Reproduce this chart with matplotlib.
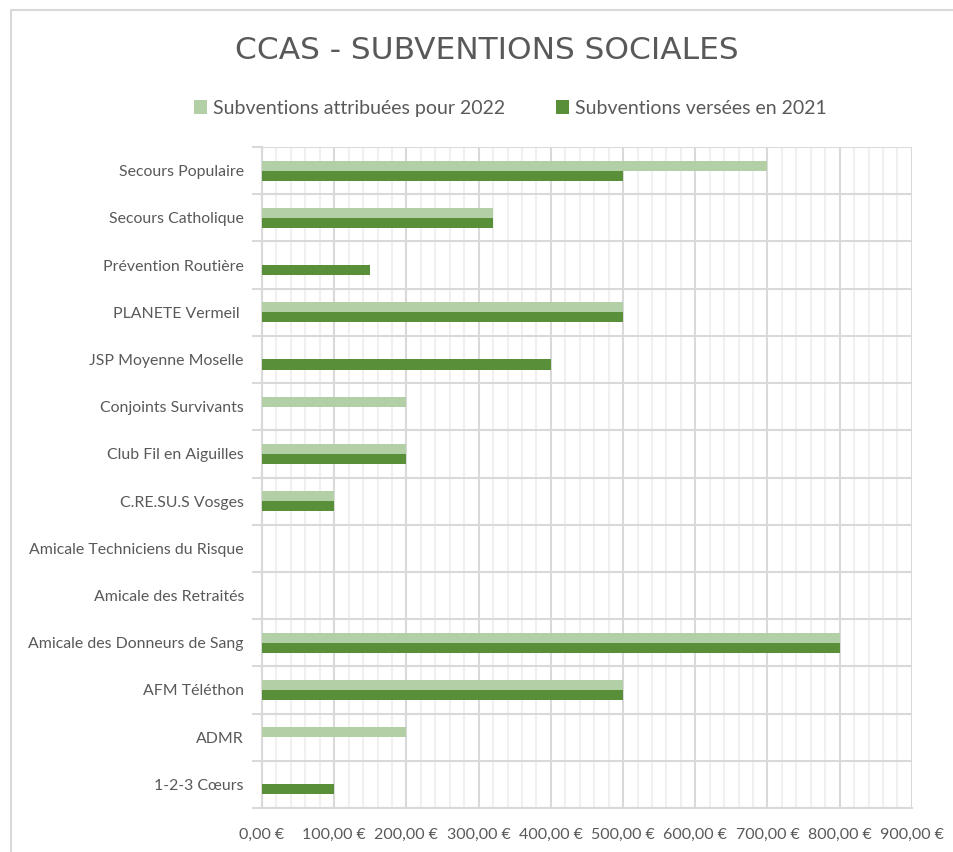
import numpy as np
import matplotlib.pyplot as plt
from matplotlib.ticker import MultipleLocator, FuncFormatter
from matplotlib.patches import Rectangle

# categories listed bottom -> top, like on the chart
categories = ['1-2-3 Cœurs', 'ADMR', 'AFM Téléthon', 'Amicale des Donneurs de Sang',
              'Amicale des Retraités', 'Amicale Techniciens du Risque', 'C.RE.SU.S Vosges',
              'Club Fil en Aiguilles', 'Conjoints Survivants', 'JSP Moyenne Moselle',
              'PLANETE Vermeil ', 'Prévention Routière', 'Secours Catholique', 'Secours Populaire']
attribuees_2022 = [0, 200, 500, 800, 0, 0, 100, 200, 200, 0, 500, 0, 320, 700]
versees_2021 = [100, 0, 500, 800, 0, 0, 100, 200, 0, 400, 500, 150, 320, 500]

light = '#b3cfa5'
dark = '#5a8f3a'
txt = '#595959'
plt.rcParams['font.family'] = ['Lato', 'DejaVu Sans']

fig = plt.figure(figsize=(9.54, 8.52), dpi=100)
ax = fig.add_axes([0.2746, 0.0516, 0.6813, 0.7759])

y = np.arange(len(categories))
h = 0.213
ax.barh(y + h / 2, attribuees_2022, height=h, color=light, linewidth=0,
        label='Subventions attribuées pour 2022', zorder=3)
ax.barh(y - h / 2, versees_2021, height=h, color=dark, linewidth=0,
        label='Subventions versées en 2021', zorder=3)

ax.set_xlim(0, 900)
ax.set_ylim(-0.5, len(categories) - 0.5)
ax.xaxis.set_major_locator(MultipleLocator(100))
ax.xaxis.set_minor_locator(MultipleLocator(20))
ax.xaxis.set_major_formatter(FuncFormatter(lambda v, p: f'{v:,.2f}'.replace(',', ' ').replace('.', ',') + '\u202f€'))
ax.grid(which='major', axis='x', color='#d9d9d9', linewidth=1.5, zorder=0)
ax.grid(which='minor', axis='x', color='#f0f0f0', linewidth=1.5, zorder=0)

ax.set_yticks(y)
ax.set_yticklabels(categories)
ax.set_yticks(np.arange(len(categories) + 1) - 0.5, minor=True)
ax.grid(which='minor', axis='y', color='#d9d9d9', linewidth=1.5, zorder=0)
ax.tick_params(axis='y', which='major', length=0, pad=13, labelsize=11.4, labelcolor=txt)
ax.tick_params(axis='y', which='minor', length=7, width=1.5, color='#d9d9d9')
ax.tick_params(axis='x', which='both', length=0, pad=14, labelsize=11.5, labelcolor=txt)

for s in ['top', 'right']:
    ax.spines[s].set_visible(False)
ax.spines['left'].set_color('#d9d9d9')
ax.spines['left'].set_linewidth(1.5)
ax.spines['bottom'].set_color('#d9d9d9')
ax.spines['bottom'].set_linewidth(1.5)

fig.text(0.51, 0.941, 'CCAS - SUBVENTIONS SOCIALES', ha='center', va='center',
         fontsize=22.5, color=txt, family=['Liberation Sans Narrow', 'DejaVu Sans'])
fig.legend(loc='center', bbox_to_anchor=(0.535, 0.873), ncol=2, frameon=False,
           fontsize=14, labelcolor=txt, handlelength=0.7, handleheight=0.7,
           handletextpad=0.3, columnspacing=2.6)

# chart frame: only left and top edges are inside the picture
fig.patches.append(Rectangle((11, -1000), 2000, 1842, transform=None, fill=False,
                             edgecolor='#d9d9d9', linewidth=1.5))

fig.savefig('out.png', dpi=100, facecolor='white')
